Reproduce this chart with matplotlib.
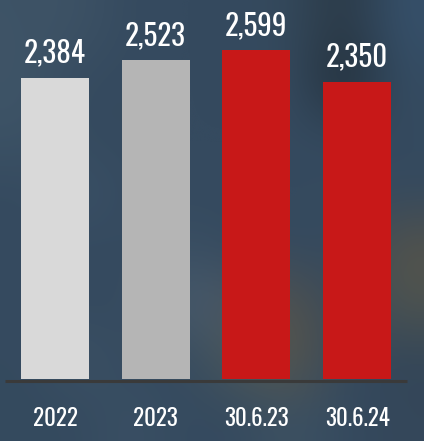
import numpy as np
import matplotlib.pyplot as plt
import matplotlib.colors as mcolors

# Values shown on the bars
categories = ["2022", "2023", "30.6.23", "30.6.24"]
values = [2384, 2523, 2599, 2350]
bar_colors = ["#d9d9d9", "#b5b5b5", "#c81818", "#c81818"]

FONT = ["Oswald", "DejaVu Sans"]

fig = plt.figure(figsize=(4.24, 4.41), dpi=100)

# Blurred photo-like backdrop made from a coarse grid of tones
base = mcolors.to_rgb("#354a5f")
bg = np.tile(np.array(base), (8, 8, 1))
patches = {
    (0, 0): "#3e5366", (0, 1): "#3d5265", (1, 0): "#3f5568", (2, 0): "#3c5265",
    (0, 5): "#34495c", (0, 6): "#2a3844", (1, 6): "#1f2a33", (0, 7): "#36506a",
    (1, 7): "#354c62", (2, 1): "#354a5e", (3, 1): "#3c5268",
    (4, 3): "#3a4f63", (5, 3): "#4b5e70", (5, 4): "#4a5560", (6, 4): "#4e5a5a",
    (5, 5): "#55524a", (6, 5): "#5a5548", (4, 7): "#55534a", (5, 7): "#4e5450",
    (6, 7): "#344658", (7, 7): "#34475a", (7, 0): "#344a5e", (6, 1): "#3d5265",
    (7, 2): "#3a5064", (7, 5): "#3d5263",
}
for (r, c), col in patches.items():
    bg[r, c] = mcolors.to_rgb(col)
bg_ax = fig.add_axes([0, 0, 1, 1], zorder=0)
bg_ax.imshow(bg, aspect="auto", interpolation="bicubic", extent=[0, 1, 0, 1])
bg_ax.axis("off")

ax = fig.add_axes([0, 0, 1, 1], zorder=1)
ax.patch.set_alpha(0)
x = np.arange(len(categories))
ax.bar(x, values, width=0.675, color=bar_colors, zorder=2)

# Dark baseline under the bars
ax.plot([-0.5, 3.5], [-13, -13], color="#3a3a3a", lw=2.2, solid_capstyle="butt", zorder=1)

for xi, v in zip(x, values):
    ax.annotate(f"{v:,}", (xi, v), xytext=(0, 11), textcoords="offset points",
                ha="center", va="baseline", color="white", fontsize=21,
                family=FONT)

for xi, lab in zip(x, categories):
    ax.text(xi, -372, lab, ha="center", va="baseline", color="white",
            fontsize=16.5, family=FONT)

ax.set_xlim(-0.546, 3.665)
ax.set_ylim(-490, 2998)
ax.axis("off")

fig.savefig("out.png", dpi=100)
